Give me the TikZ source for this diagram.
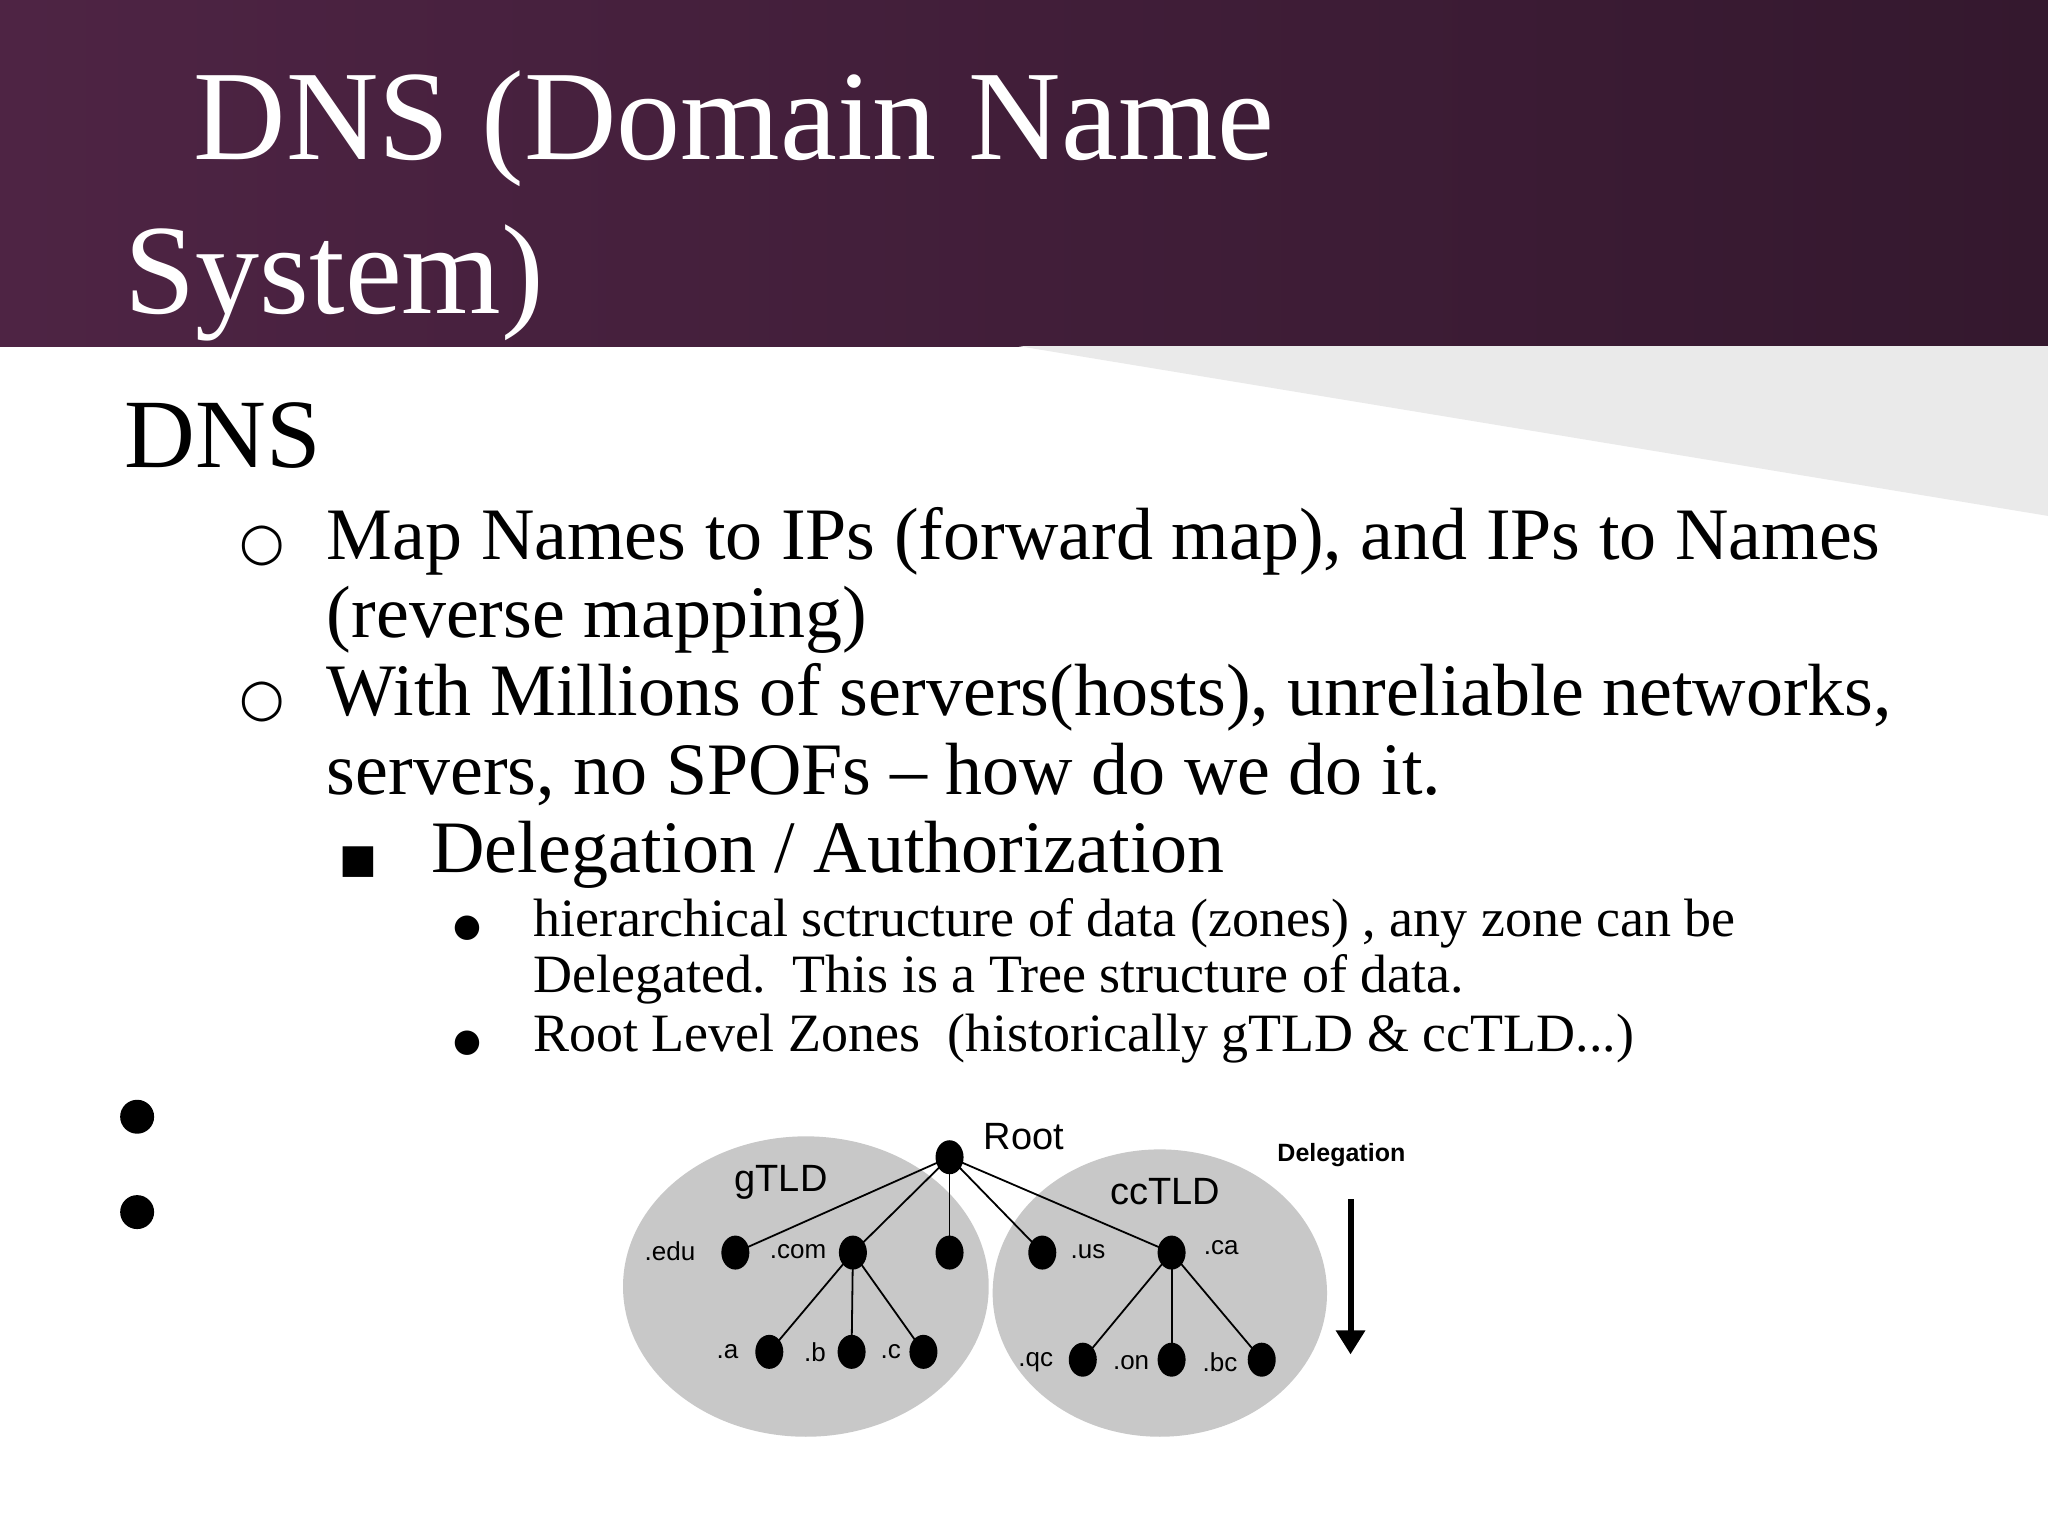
\documentclass[tikz,border=0pt]{standalone}
\usepackage{fontspec}
\setmainfont{Liberation Serif}
\newfontfamily\dsans{Liberation Sans}
\newfontfamily\dsymb{DejaVu Sans}
\definecolor{hdrL}{RGB}{78,36,68}
\definecolor{hdrR}{RGB}{52,24,46}
\definecolor{wedge}{RGB}{234,234,234}
\definecolor{zone}{RGB}{200,200,200}
\tikzset{
  txt/.style={anchor=base west,inner sep=0pt},
  lvl1/.style={txt,font=\fontsize{37}{44}\selectfont},
  lvl2/.style={txt,font=\fontsize{27}{32}\selectfont},
  dot/.style={ellipse,fill=black,minimum width=14pt,minimum height=17pt,inner sep=0pt},
  lab/.style={inner sep=0pt,font=\dsans\fontsize{13}{15}\selectfont},
  edge/.style={line width=0.9pt},
}
\usetikzlibrary{shapes.geometric,arrows.meta}
\begin{document}
\begin{tikzpicture}[x=0.653pt,y=-0.653pt]
\useasboundingbox (0,0) rectangle (1568,1176);
\fill[white] (0,0) rectangle (1568,1176);
\shade[left color=hdrL,right color=hdrR] (0,0) rectangle (1568,265);
\fill[wedge] (780,265) -- (1568,265) -- (1568,395) -- cycle;
\node[txt,white,font=\fontsize{64}{70}\selectfont] (t1) at (148,122) {DNS (Domain Name};
\node[txt,white,font=\fontsize{64}{70}\selectfont] (t2) at (95,240) {System)};
\node[txt,font=\fontsize{49}{56}\selectfont] (dns) at (95,358) {DNS};
\node[lvl1] (b1) at (183,428) {\dsymb\fontsize{26}{30}\selectfont ○};
\node[lvl1] (l1) at (250,428) {Map Names to IPs (forward map), and IPs to Names};
\node[lvl1] (l2) at (250,488) {(reverse mapping)};
\node[lvl1] (b2) at (183,548) {\dsymb\fontsize{26}{30}\selectfont ○};
\node[lvl1] (l3) at (250,548) {With Millions of servers(hosts), unreliable networks,};
\node[lvl1] (l4) at (250,608) {servers, no SPOFs -- how do we do it.};
\node[lvl1] (b3) at (260,668) {\dsymb\fontsize{20}{24}\selectfont ■};
\node[lvl1] (l5) at (330,668) {Delegation / Authorization};
\node[lvl2] (b4) at (347,717) {\dsymb\fontsize{16}{20}\selectfont ●};
\node[lvl2] (l6) at (408,717) {hierarchical sctructure of data (zones) , any zone can be};
\node[lvl2] (l7) at (408,760) {Delegated.\ \ This is a Tree structure of data.};
\node[lvl2] (b5) at (347,805) {\dsymb\fontsize{16}{20}\selectfont ●};
\node[lvl2] (l8) at (408,805) {Root Level Zones\ \ (historically gTLD \& ccTLD...)};
\fill (105,855) circle (13);
\fill (105,928) circle (13);
% diagram
\fill[zone] (617,985) ellipse (140 and 115);
\fill[zone] (888,990) ellipse (128 and 110);
\node[dot] (root) at (727,886) {};
\node[dot] (edu) at (563,959) {};
\node[dot] (com) at (653,959) {};
\node[dot] (mid) at (727,959) {};
\node[dot] (us) at (798,959) {};
\node[dot] (ca) at (897,959) {};
\node[dot] (a) at (589,1035) {};
\node[dot] (b) at (652,1035) {};
\node[dot] (c) at (707,1035) {};
\node[dot] (qc) at (829,1041) {};
\node[dot] (on) at (897,1041) {};
\node[dot] (bc) at (966,1041) {};
\foreach \n in {edu,com,mid,us,ca} \draw[edge] (root.center) -- (\n.center);
\foreach \n in {a,b,c} \draw[edge] (com.center) -- (\n.center);
\foreach \n in {qc,on,bc} \draw[edge] (ca.center) -- (\n.center);
\node[inner sep=0pt,font=\dsans\fontsize{19}{22}\selectfont] (rootl) at (784,870) {Root};
\node[inner sep=0pt,font=\dsans\fontsize{19}{22}\selectfont] (gl) at (598,905) {gTLD};
\node[inner sep=0pt,font=\dsans\fontsize{19}{22}\selectfont] (cl) at (892,912) {ccTLD};
\node[lab] at (513,958) {.edu};
\node[lab] at (611,958) {.com};
\node[lab] at (833,958) {.us};
\node[lab] at (935,955) {.ca};
\node[lab] at (557,1035) {.a};
\node[lab] at (624,1035) {.b};
\node[lab] at (682,1035) {.c};
\node[lab] at (793,1043) {.qc};
\node[lab] at (866,1043) {.on};
\node[lab] at (934,1043) {.bc};
\node[inner sep=0pt,font=\dsans\bfseries\fontsize{12.5}{15}\selectfont] (dl) at (1027,884) {Delegation};
\coordinate (as) at (1034,918);
\coordinate (ae) at (1034,1037);
\draw[line width=3pt,-{Triangle[length=12pt,width=14pt]}] (as) -- (ae);
\end{tikzpicture}
\end{document}
